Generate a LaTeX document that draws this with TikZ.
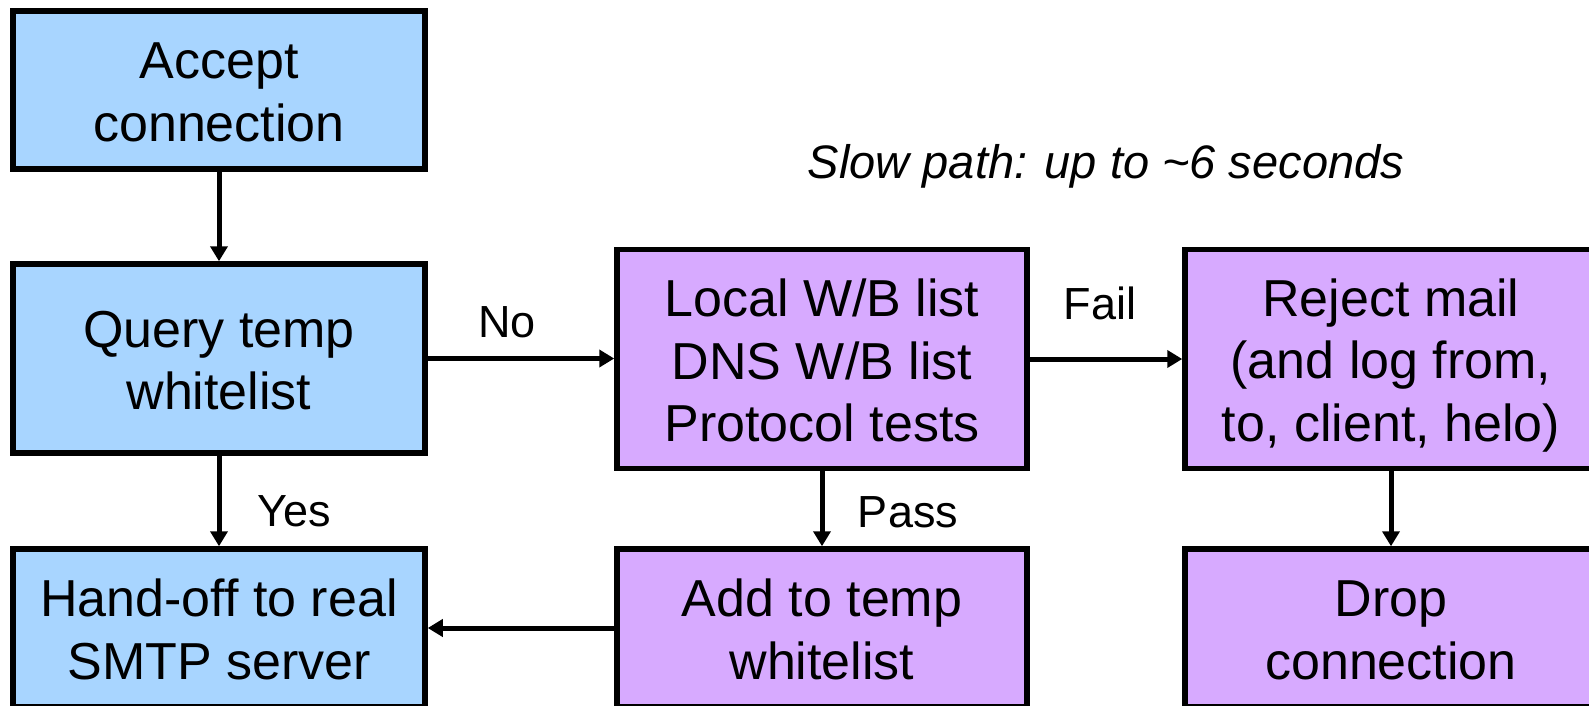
\documentclass[tikz,border=0pt]{standalone}
\usepackage{fontspec}
\setmainfont{Liberation Sans}
\usetikzlibrary{arrows.meta}

\definecolor{fastblue}{RGB}{168,213,255}
\definecolor{slowpurple}{RGB}{215,170,255}

% strut that fixes the height and depth of every text line in the boxes
\newcommand\boxlinestrut{\rule[-10pt]{0pt}{60pt}}

\tikzset{
  stagebox/.style={draw=black, line width=5.5pt, align=center,
    font=\fontsize{52}{62.5}\selectfont, inner sep=0pt},
  fastbox/.style={stagebox, fill=fastblue},
  slowbox/.style={stagebox, fill=slowpurple},
  flow/.style={line width=5pt, -{Triangle[length=15pt,width=17pt]}},
  flowlabel/.style={font=\fontsize{45}{54}\selectfont, inner sep=0pt},
}

\begin{document}
\begin{tikzpicture}[x=1pt, y=-1pt]
  \useasboundingbox (0,0) rectangle (1589,705);
  \clip (0,0) rectangle (1589,705);

  % fast path (blue)
  \node[fastbox, minimum width=412pt, minimum height=158pt] (accept) at (219,90)
    {\boxlinestrut Accept\\\boxlinestrut connection};
  \node[fastbox, minimum width=412pt, minimum height=189pt] (query) at (219,358.5)
    {\boxlinestrut Query temp\\\boxlinestrut whitelist};
  \node[fastbox, minimum width=412pt, minimum height=158pt] (handoff) at (219,628)
    {\boxlinestrut Hand-off to real\\\boxlinestrut SMTP server};

  % slow path (purple)
  \node[slowbox, minimum width=410pt, minimum height=219pt] (checks) at (822,359)
    {\boxlinestrut Local W/B list\\\boxlinestrut DNS W/B list\\\boxlinestrut Protocol tests};
  \node[slowbox, minimum width=410pt, minimum height=158pt] (addtemp) at (822,628)
    {\boxlinestrut Add to temp\\\boxlinestrut whitelist};
  \node[slowbox, minimum width=412pt, minimum height=219pt] (reject) at (1391,359)
    {\boxlinestrut Reject mail\\\boxlinestrut (and log from,\\\boxlinestrut to, client, helo)};
  \node[slowbox, minimum width=412pt, minimum height=158pt] (drop) at (1391,628)
    {\boxlinestrut Drop\\\boxlinestrut connection};

  \node[font=\fontsize{47}{56}\selectfont\itshape, inner sep=0pt] (slownote) at (1106,166)
    {Slow path: up to \textasciitilde 6 seconds};

  % connectors
  \draw[flow] (accept.south) -- (query.north);
  \draw[flow] (query.east) -- (query.east -| checks.west)
    node[flowlabel, midway, xshift=-14pt, yshift=36pt] (nolbl) {No};
  \draw[flow] (query.south) -- (handoff.north)
    node[flowlabel, midway, xshift=75pt, yshift=-10pt] (yeslbl) {Yes};
  \draw[flow] (checks.east) -- (checks.east -| reject.west)
    node[flowlabel, midway, xshift=-6pt, yshift=56pt] (faillbl) {Fail};
  \draw[flow] (checks.south) -- (addtemp.north)
    node[flowlabel, midway, xshift=86pt, yshift=-3pt] (passlbl) {Pass};
  \draw[flow] (reject.south) -- (drop.north);
  \draw[flow] (addtemp.west) -- (addtemp.west -| handoff.east);
\end{tikzpicture}
\end{document}
